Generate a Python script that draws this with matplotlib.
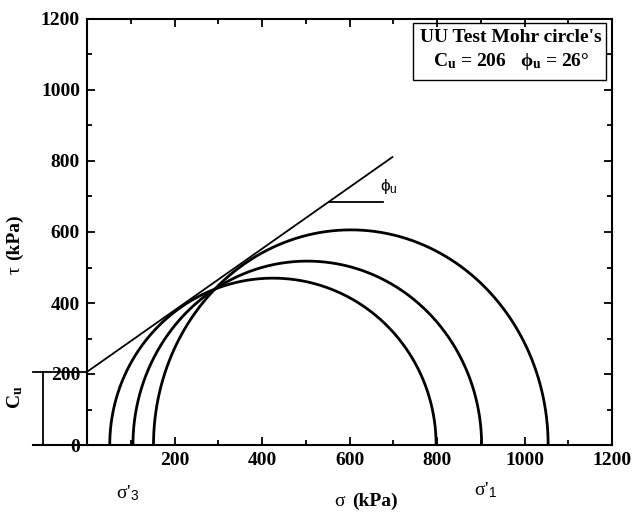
import numpy as np
import matplotlib
matplotlib.use("Agg")
import matplotlib.pyplot as plt
from matplotlib.ticker import MultipleLocator
from matplotlib.patches import Rectangle

plt.rcParams['font.family'] = ['Liberation Serif', 'DejaVu Serif']
plt.rcParams['mathtext.fontset'] = 'custom'
plt.rcParams['mathtext.rm'] = 'Liberation Serif:bold'
plt.rcParams['mathtext.it'] = 'Liberation Serif:bold'
plt.rcParams['mathtext.bf'] = 'Liberation Serif:bold'
plt.rcParams['mathtext.sf'] = 'Liberation Sans'

# Data (kPa)
sigma3 = [52, 105, 152]          # minor principal stress (left ends of circles)
sigma1 = [798, 902, 1054]        # major principal stress (right ends)
tau_peak = [470, 518, 606]       # apex height of each drawn circle
cu = 206                         # cohesion intercept
envelope_sigma = [0, 698]
envelope_tau = [206, 811]
phi_mark_sigma = [552, 677]
phi_mark_tau = 684
x_ticks = [200, 400, 600, 800, 1000, 1200]
y_ticks = [0, 200, 400, 600, 800, 1000, 1200]

fig = plt.figure(figsize=(6.32, 5.12), dpi=100)
ax = fig.add_axes([87/632, 1-445/512, (612-87)/632, (445-19)/512])
ax.set_xlim(0, 1200)
ax.set_ylim(0, 1200)

t = np.linspace(0, np.pi, 600)
for s3, s1, h in zip(sigma3, sigma1, tau_peak):
    c = (s3 + s1) / 2
    r = (s1 - s3) / 2
    ax.plot(c + r*np.cos(t), h*np.sin(t), color='black', lw=2.0, solid_capstyle='butt')

ax.plot(envelope_sigma, envelope_tau, color='black', lw=1.3)
ax.plot(phi_mark_sigma, [phi_mark_tau, phi_mark_tau], color='black', lw=1.3)
ax.text(670, 700, r'ϕ$_\mathsf{u}$', fontsize=12.5, family='Liberation Sans', ha='left', va='bottom')

# Cu bracket outside axes
ax.plot([-123, 0], [cu, cu], color='black', lw=1.3, clip_on=False)
ax.plot([-123, 0], [0, 0], color='black', lw=1.5, clip_on=False)
ax.plot([-100, -100], [0, cu], color='black', lw=1.3, clip_on=False)
ax.text(-165, 135, r'C$_\mathrm{u}$', rotation=90, fontsize=14, fontweight='bold',
        ha='center', va='center')

for sp in ax.spines.values():
    sp.set_linewidth(1.5)

ax.set_xticks(x_ticks)
ax.set_yticks(y_ticks)
ax.xaxis.set_minor_locator(MultipleLocator(100))
ax.yaxis.set_minor_locator(MultipleLocator(100))
ax.tick_params(which='both', direction='in', top=True, right=True, width=1.3)
ax.tick_params(which='major', length=6, labelsize=14, pad=5)
ax.tick_params(which='minor', length=3.5)
for lab in ax.get_xticklabels() + ax.get_yticklabels():
    lab.set_fontweight('bold')

# Axis labels
ax.text(-165, 505, 'τ', rotation=90, fontsize=14, ha='center', va='top')
ax.text(-165, 522, '(kPa)', rotation=90, fontsize=14, fontweight='bold', ha='center', va='bottom')
fig.text(345/632, 1-506/512, 'σ', fontsize=14, ha='right', va='baseline')
fig.text(352/632, 1-506/512, '(kPa)', fontsize=14, fontweight='bold', ha='left', va='baseline')
fig.text(128/632, 1-493/512, r"σ'$_\mathsf{3}$", fontsize=14, ha='center', va='center')
fig.text(486/632, 1-490/512, r"σ'$_\mathsf{1}$", fontsize=14, ha='center', va='center')

# Text box
fig.patches.append(Rectangle((413/632, 1-80/512), (606-413)/632, (80-23)/512,
                             transform=fig.transFigure, fill=False, lw=1.0, edgecolor='black'))
fig.text(511/632, 1-38/512, "UU Test Mohr circle's", fontsize=14, fontweight='bold',
         ha='center', va='center')
fig.text(511/632, 1-62/512, r"C$_\mathrm{u}$ = 206   ϕ$_\mathrm{u}$ = 26°", fontsize=14,
         fontweight='bold', ha='center', va='center')

fig.savefig('out.png', dpi=100)
